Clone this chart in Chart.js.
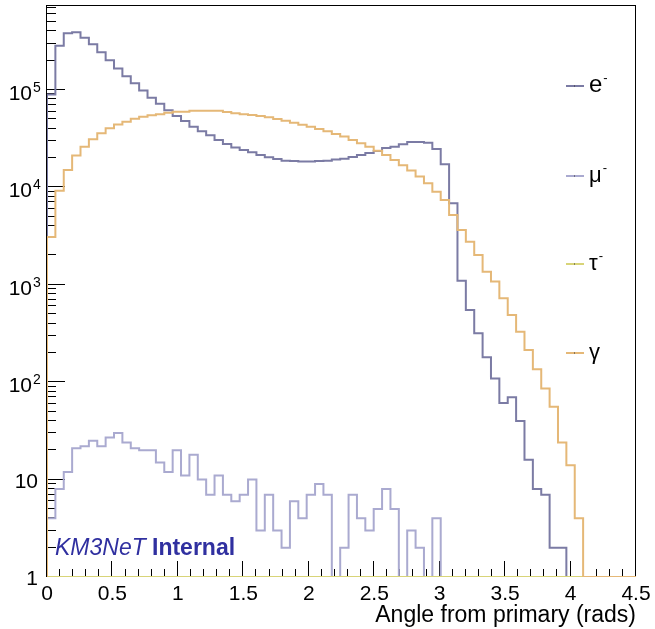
<!DOCTYPE html>
<html>
<head>
<meta charset="utf-8">
<script src="https://cdn.jsdelivr.net/npm/chart.js@4"></script>
<style>
  html, body { margin:0; padding:0; background:#fff; }
  canvas { display:block; }
</style>
</head>
<body>
<canvas id="c" width="655" height="629"></canvas>
<script>
// histograms of the angle from the primary, bins of 0.064 rad starting at 0
const binWidth = 0.064;
const electron = [90000, 285000, 382000, 391000, 344000, 294000, 244000, 202000, 166000, 138000,
  117000, 98500, 83000, 72000, 62000, 54000, 48000, 42000, 37700, 34300,
  30700, 27900, 25600, 24200, 22900, 21500, 20400, 19600, 18800, 18700,
  18400, 18400, 18700, 18800, 19300, 19700, 20500, 21500, 22600, 23600,
  25400, 26200, 27700, 29200, 29200, 28800, 24800, 17300, 6870, 1100,
  551, 318, 180, 109, 61, 70, 40, 16, 8, 7,
  2, 2, 0, 0, 0, 0, 0, 0, 0, 0, 0];
const muon = [4, 8, 12, 21, 22, 25, 22, 27, 30, 24,
  21, 20, 20, 15, 12, 20, 11, 18, 10, 7,
  11, 7, 6, 7, 10, 3, 7, 3, 2, 6,
  4, 7, 9, 7, 0, 2, 7, 4, 3, 5,
  8, 5, 0, 3, 2, 0, 4, 0, 0, 0,
  0, 0, 0, 0, 0, 0, 0, 0, 0, 0,
  0, 0, 0, 0, 0, 0, 0, 0, 0, 0, 0];
const tau = [0, 0, 0, 0, 0, 0, 0, 0, 0, 0,
  0, 0, 0, 0, 0, 0, 0, 0, 0, 0,
  0, 0, 0, 0, 0, 0, 0, 0, 0, 0,
  0, 0, 0, 0, 0, 0, 0, 0, 0, 0,
  0, 0, 0, 0, 0, 0, 0, 0, 0, 0,
  0, 0, 0, 0, 0, 0, 0, 0, 0, 0,
  0, 0, 0, 0, 0, 0, 0, 0, 0, 0, 0];
const gamma = [3100, 9250, 15100, 21200, 26200, 31200, 35900, 40400, 44100, 47300,
  50800, 53200, 55000, 56300, 58500, 59900, 59900, 61300, 61300, 61300,
  61300, 59400, 57700, 56300, 55400, 54100, 52400, 50400, 48400, 46200,
  44000, 42000, 39800, 37700, 35300, 33200, 30700, 28400, 26200, 23800,
  21500, 19100, 16900, 14900, 12900, 11000, 9040, 7400, 5210, 3650,
  2770, 2020, 1360, 1080, 726, 490, 330, 214, 136, 86,
  56, 24, 14, 4, 0, 0, 0, 0, 0, 0, 0];

const seriesNames = ['e', 'μ', 'τ', 'γ'];
const seriesSups = ['-', '-', '-', ''];
const seriesColors = ['#7b7ba4', '#aaaad0', '#d8d478', '#e5b877'];

const xTickValues = [0, 0.5, 1, 1.5, 2, 2.5, 3, 3.5, 4, 4.5];
const xTickLabels = ['0', '0.5', '1', '1.5', '2', '2.5', '3', '3.5', '4', '4.5'];
const yTickValues = [1, 10, 100, 1000, 10000, 100000];
const yTickLabels = ['1', '10', '10^2', '10^3', '10^4', '10^5'];
const yMin = 1, yMax = 7.28e5;

const FONT = '"Liberation Sans", Arial, Helvetica, sans-serif';

// ROOT-like outline: up from the floor, one step per bin, back to the floor
function histPoints(counts){
  const pts = [{x: 0, y: yMin}];
  counts.forEach((c, i) => pts.push({x: i * binWidth, y: c > 0 ? c : yMin}));
  pts.push({x: counts.length * binWidth, y: yMin});
  return pts;
}

const rootFrame = {
  id: 'rootFrame',
  // frame and ticks go under the histograms
  beforeDatasetsDraw(chart){
    const {ctx, chartArea: a, scales: {x, y}} = chart;
    const snap = v => Math.round(v) - 0.5;
    ctx.save();
    ctx.strokeStyle = '#000';
    ctx.lineWidth = 1;
    ctx.beginPath();
    // x ticks every 0.1, longer every 0.5
    for(let k = 0; k <= 45; k++){
      const px = snap(x.getPixelForValue(k / 10));
      ctx.moveTo(px, a.bottom); ctx.lineTo(px, a.bottom - (k % 5 === 0 ? 16 : 8));
    }
    // log y ticks
    yTickValues.forEach(v => {
      const py = snap(y.getPixelForValue(v));
      ctx.moveTo(a.left, py); ctx.lineTo(a.left + 18, py);
      for(let m = 2; m <= 9; m++){
        if(v * m > yMax) break;
        const pm = snap(y.getPixelForValue(v * m));
        ctx.moveTo(a.left, pm); ctx.lineTo(a.left + 9, pm);
      }
    });
    ctx.stroke();
    ctx.strokeRect(snap(a.left), snap(a.top), Math.round(a.right - a.left), Math.round(a.bottom - a.top));
    ctx.restore();
  },
  afterDraw(chart){
    const {ctx, scales: {x, y}} = chart;
    ctx.save();
    ctx.fillStyle = '#000';
    ctx.textBaseline = 'alphabetic';
    ctx.font = '21px ' + FONT;
    ctx.textAlign = 'center';
    xTickValues.forEach((v, i) => ctx.fillText(xTickLabels[i], x.getPixelForValue(v), 600));

    yTickValues.forEach((v, i) => {
      const py = y.getPixelForValue(v);
      const [base, sup] = yTickLabels[i].split('^');
      ctx.textAlign = 'right';
      if(sup){
        ctx.font = '21px ' + FONT;
        ctx.fillText(base, 32, py + 10);
        ctx.textAlign = 'left';
        ctx.font = '14px ' + FONT;
        ctx.fillText(sup, 33, py + 2);
      } else {
        ctx.font = '21px ' + FONT;
        ctx.fillText(base, 38, py + 8);
      }
    });

    ctx.font = '23px ' + FONT;
    ctx.textAlign = 'right';
    ctx.fillText('Angle from primary (rads)', 636, 622);

    // legend down the right side
    const legendY = [86, 176, 264, 353];
    seriesNames.forEach((n, i) => {
      const ly = legendY[i];
      ctx.strokeStyle = seriesColors[i];
      ctx.lineWidth = 2;
      ctx.beginPath(); ctx.moveTo(566, ly); ctx.lineTo(584, ly); ctx.stroke();
      ctx.fillStyle = '#333';
      ctx.fillRect(574, ly - 0.5, 1, 1);
      ctx.fillStyle = '#000';
      ctx.textAlign = 'left';
      ctx.font = (i === 0 ? '24px ' : '22px ') + FONT;
      ctx.fillText(n, 589, ly + 6);
      if(seriesSups[i]){
        const w = ctx.measureText(n).width;
        ctx.font = '13px ' + FONT;
        ctx.fillText(seriesSups[i], 589 + w + 1, ly - 4);
      }
    });

    // experiment tag
    ctx.fillStyle = '#3030a0';
    ctx.font = 'italic 23px ' + FONT;
    ctx.fillText('KM3NeT', 55, 555);
    ctx.font = 'bold 23px ' + FONT;
    ctx.fillText('Internal', 152, 555);
    ctx.restore();
  }
};

const series = [electron, muon, tau, gamma];
new Chart(document.getElementById('c'), {
  type: 'line',
  data: {
    datasets: series.map((s, i) => ({
      label: seriesNames[i],
      data: histPoints(s),
      borderColor: seriesColors[i],
      borderWidth: 2,
      stepped: true,
      fill: false,
      pointRadius: 0,
      order: series.length - i
    }))
  },
  options: {
    responsive: false,
    animation: false,
    devicePixelRatio: 1,
    layout: { padding: { left: 47, top: 6, right: 19, bottom: 52 } },
    plugins: { legend: { display: false }, tooltip: { enabled: false } },
    scales: {
      x: { type: 'linear', min: 0, max: 4.5, display: false },
      y: { type: 'logarithmic', min: yMin, max: yMax, display: false }
    }
  },
  plugins: [rootFrame]
});
</script>
</body>
</html>
